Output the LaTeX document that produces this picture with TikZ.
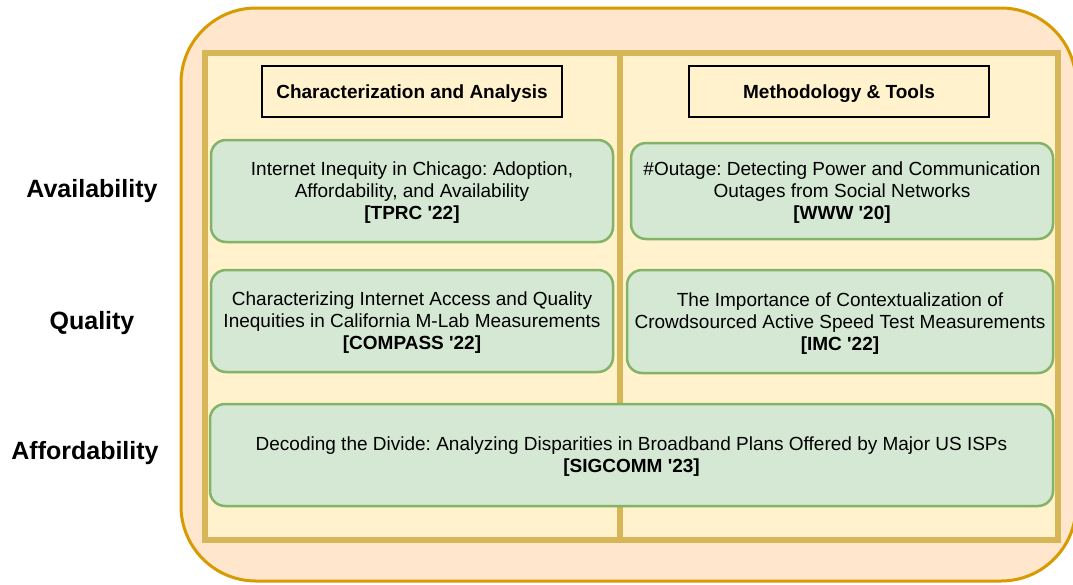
\documentclass[tikz,border=0pt]{standalone}
\usepackage{fontspec}
\setmainfont{Liberation Sans}
\usepackage{xcolor}
\usepackage{tikz}

\definecolor{outerline}{HTML}{D79B00}
\definecolor{outerfill}{HTML}{FFE6CC}
\definecolor{innerline}{HTML}{D6B656}
\definecolor{innerfill}{HTML}{FFF2CC}
\definecolor{paperline}{HTML}{82B366}
\definecolor{paperfill}{HTML}{D5E8D4}

\newcommand{\venue}[1]{\textbf{[#1]}}

\begin{document}
\frenchspacing
\begin{tikzpicture}[x=1pt,y=-1pt,
    paper/.style={draw=paperline,fill=paperfill,line width=2.5pt,rounded corners=15pt,
      align=center,font=\fontsize{19}{22}\selectfont,inner sep=0pt,text depth=0pt},
    header/.style={draw=black,line width=2.5pt,minimum width=300pt,minimum height=51pt,
      font=\fontsize{19}{22}\selectfont\bfseries,inner sep=0pt,text depth=0pt},
    rowlabel/.style={font=\fontsize{25}{28}\selectfont\bfseries,inner sep=0pt,text depth=0pt}]

  \useasboundingbox (0,0) rectangle (1073,584);

  % outer and inner frames
  \draw[draw=outerline,fill=outerfill,line width=3pt,rounded corners=75pt] (181,8) rectangle (1076,581);
  \draw[draw=innerline,fill=innerfill,line width=6pt] (205,53) rectangle (1058,540);
  \draw[draw=innerline,line width=6pt] (620,53) -- (620,540);

  % column headers
  \node[header] (charact) at (412,91.5) {Characterization and Analysis};
  \node[header] (method) at (839,91.5) {Methodology \& Tools};

  % row labels
  \foreach \name/\y/\x/\txt in {avail/188/92/Availability, qual/320/92/Quality, afford/450/85/Affordability}
    \node[rowlabel] (\name) at (\x,\y) {\txt};

  % papers
  \node[paper,minimum width=402pt,minimum height=102pt] (tprc) at (412,191)
    {Internet Inequity in Chicago: Adoption,\\ Affordability, and Availability\\ \venue{TPRC \textquotesingle22}};
  \node[paper,minimum width=422pt,minimum height=96pt] (www) at (842,191)
    {\#Outage: Detecting Power and Communication\\ Outages from Social Networks\\ \venue{WWW \textquotesingle20}};
  \node[paper,minimum width=402pt,minimum height=102pt] (compass) at (412,321)
    {Characterizing Internet Access and Quality\\ Inequities in California M-Lab Measurements\\ \venue{COMPASS \textquotesingle22}};
  \node[paper,minimum width=426pt,minimum height=103pt] (imc) at (840,321.5)
    {The Importance of Contextualization of\\ Crowdsourced Active Speed Test Measurements\\ \venue{IMC \textquotesingle22}};
  \node[paper,minimum width=843pt,minimum height=102pt] (sigcomm) at (631.5,455)
    {Decoding the Divide: Analyzing Disparities in Broadband Plans Offered by Major US ISPs\\ \venue{SIGCOMM \textquotesingle23}};

\end{tikzpicture}
\end{document}
